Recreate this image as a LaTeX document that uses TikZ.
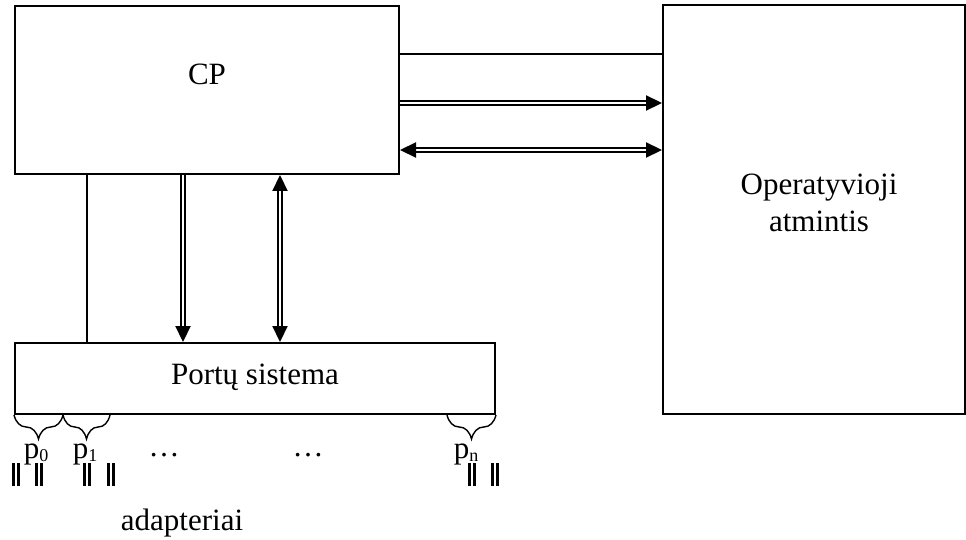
\documentclass[tikz,border=0pt]{standalone}
\usepackage{fontspec}
\setmainfont{Liberation Serif}
\usetikzlibrary{arrows.meta,decorations.pathreplacing}
\newcommand\psub[1]{\raisebox{-3pt}{\fontsize{18}{18}\selectfont #1}}
\begin{document}
\begin{tikzpicture}[x=1pt,y=-1pt,
  >={Triangle[length=16pt,width=15pt]},
  box/.style={draw, line width=2pt, inner sep=0pt},
  lbl/.style={font=\fontsize{31}{36}\selectfont, inner sep=0pt, anchor=base},
  dbl/.style={double, line width=2.2pt, double distance=2pt},
  plain/.style={line width=1.6pt},
  brc/.style={decorate, decoration={brace, mirror, amplitude=24pt}, line width=1.4pt},
  bar/.style={double, line width=2.4pt, double distance=2.6pt}]
\useasboundingbox (0,0) rectangle (966,540);
% boxes
\node[box, minimum width=384pt, minimum height=168pt] (CP) at (207,90) {};
\node[box, minimum width=302pt, minimum height=409pt] (OA) at (814,209.5) {};
\node[box, minimum width=480pt, minimum height=71pt] (PS) at (255,378.5) {};
% texts
\node[lbl] (cpt) at (207,85) {CP};
\node[lbl] (oat1) at (819,195) {Operatyvioji};
\node[lbl] (oat2) at (819,232) {atmintis};
\node[lbl] (pst) at (255,384) {Portų sistema};
% connectors CP - OA
\coordinate (h1) at (CP.east |- 0,54);
\coordinate (h2) at (CP.east |- 0,103);
\coordinate (h3) at (CP.east |- 0,150);
\draw[plain] (h1) -- (h1 -| OA.west);
\draw[dbl, ->] (h2) -- (h2 -| OA.west);
\draw[dbl, <->] (h3) -- (h3 -| OA.west);
% connectors CP - PS
\coordinate (v1) at (CP.south -| 87,0);
\coordinate (v2) at (CP.south -| 183,0);
\coordinate (v3) at (CP.south -| 280,0);
\draw[plain] (v1) -- (v1 |- PS.north);
\draw[dbl, ->] (v2) -- (v2 |- PS.north);
\draw[dbl, <->] (v3) -- (v3 |- PS.north);
% braces
\coordinate (b0) at (PS.south west);
\coordinate (b1) at (PS.south west -| 63,0);
\coordinate (b2) at (PS.south west -| 110,0);
\coordinate (b3) at (PS.south west -| 447,0);
\draw[brc] (b0) -- (b1);
\draw[brc] (b1) -- (b2);
\draw[brc] (b3) -- (PS.south east);
% port labels
\node[lbl] (p0) at (36,458) {p\psub{0}};
\node[lbl] (p1) at (85,458) {p\psub{1}};
\node[lbl] (pn) at (466,458) {p\psub{n}};
\node[lbl] (d1) at (164,456) {\dots};
\node[lbl] (d2) at (308,456) {\dots};
% adapter bars
\foreach \xx in {16,39,87,111,472,495}
  \draw[bar] (\xx,463) -- (\xx,486);
\node[lbl] (ad) at (182,530) {adapteriai};
\end{tikzpicture}
\end{document}
